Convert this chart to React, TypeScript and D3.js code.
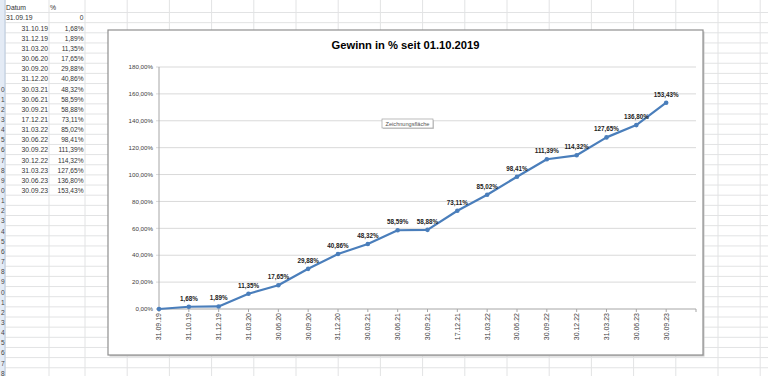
import React from 'react';
import * as d3 from 'd3';

const dates = ['31.09.19','31.10.19','31.12.19','31.03.20','30.06.20','30.09.20','31.12.20','30.03.21','30.06.21','30.09.21','17.12.21','31.03.22','30.06.22','30.09.22','30.12.22','31.03.23','30.06.23','30.09.23'];
const values = [0,1.68,1.89,11.35,17.65,29.88,40.86,48.32,58.59,58.88,73.11,85.02,98.41,111.39,114.32,127.65,136.80,153.43];
const tableValues = ['0','1,68%','1,89%','11,35%','17,65%','29,88%','40,86%','48,32%','58,59%','58,88%','73,11%','85,02%','98,41%','111,39%','114,32%','127,65%','136,80%','153,43%'];
const yTicks = [0,20,40,60,80,100,120,140,160,180];
const rowNumbers = [10,11,12,13,14,15,16,17,18,19,20,21,22,23,24,25,26,27,28,29,30,31,32,33,34,35,36,37,38];
const title = 'Gewinn in % seit 01.10.2019';
const headerDate = 'Datum';
const headerPct = '%';
const plotTip = 'Zeichnungsfläche';

const fmtPct = (v: number) => v.toFixed(2).replace('.', ',') + '%';

export default function App() {
  const W = 768, H = 376;
  const x = d3.scaleLinear().domain([0, dates.length]).range([159, 696]);
  const y = d3.scaleLinear().domain([0, 180]).range([309, 67]);
  const line = d3.line<number>().x((_, i) => x(i)).y(d => y(d));

  const rowH = 10.15;
  const rowLines = d3.range(0, 37).map(k => 12.5 + k * rowH);
  const colLines = [5, 49, ...d3.range(0, 17).map(k => 85 + k * 42.2)];
  const rowCenter = (r: number) => 8 + r * rowH; // r=0 header row (sheet row 2)
  const font = "'Liberation Sans', Arial, sans-serif";

  return (
    <svg width={W} height={H} style={{ position: 'absolute', left: 0, top: 0, background: '#fff' }} fontFamily={font}>
      {/* spreadsheet grid */}
      {rowLines.map((yy, i) => (
        <line key={'r' + i} x1={0} x2={W} y1={yy} y2={yy} stroke="#e2e3e4" strokeWidth={1} />
      ))}
      {colLines.map((xx, i) => (
        <line key={'c' + i} x1={xx} x2={xx} y1={0} y2={H} stroke="#e2e3e4" strokeWidth={1} />
      ))}
      {/* row header strip (only the last digit is visible) */}
      <rect x={0} y={0} width={5} height={H} fill="#e4ebf5" />
      <line x1={5} x2={5} y1={0} y2={H} stroke="#b8c8dc" />
      {rowNumbers.map(n => (
        <text key={n} x={4.6} y={rowCenter(n - 2) + 2.3} fontSize={6.5} textAnchor="end" fill="#444">{String(n % 10)}</text>
      ))}
      {/* table */}
      <text x={6} y={rowCenter(0) + 2.3} fontSize={6.8} fill="#333">{headerDate}</text>
      <text x={50} y={rowCenter(0) + 2.3} fontSize={6.8} fill="#333">{headerPct}</text>
      {dates.map((d, i) => (
        <text key={'d' + i} x={i === 0 ? 6 : 48} y={rowCenter(i + 1) + 2.3} fontSize={6.8} textAnchor={i === 0 ? 'start' : 'end'} fill="#333">{d}</text>
      ))}
      {tableValues.map((v, i) => (
        <text key={'v' + i} x={83.5} y={rowCenter(i + 1) + 2.3} fontSize={6.6} textAnchor="end" fill="#333">{v}</text>
      ))}

      {/* chart box */}
      <rect x={109.5} y={31.5} width={595} height={325} fill="#c8c8c8" />
      <rect x={108} y={30} width={595} height={325} fill="#fff" stroke="#8f8f8f" strokeWidth={1.2} />
      <text x={405.5} y={49} fontSize={11.2} fontWeight="bold" textAnchor="middle" fill="#000">{title}</text>

      {/* gridlines + y labels */}
      {yTicks.map(t => (
        <g key={'g' + t}>
          <line x1={156} x2={696} y1={y(t)} y2={y(t)} stroke={t === 0 ? '#a6a6a6' : '#d9d9d9'} strokeWidth={1} />
          <text x={153} y={y(t) + 2.2} fontSize={6.2} textAnchor="end" fill="#404040">{fmtPct(t)}</text>
        </g>
      ))}
      <line x1={159} x2={159} y1={67} y2={309} stroke="#a6a6a6" />
      {/* x ticks + labels */}
      {d3.range(0, dates.length + 1).map(i => (
        <line key={'t' + i} x1={x(i)} x2={x(i)} y1={309} y2={312} stroke="#a6a6a6" />
      ))}
      {dates.map((d, i) => (
        <text key={'xl' + i} transform={`translate(${x(i) + 2.4},${313}) rotate(-90)`} fontSize={7} textAnchor="end" fill="#404040">{d}</text>
      ))}

      {/* series */}
      <path d={line(values) || ''} fill="none" stroke="#4a7ebb" strokeWidth={2.2} strokeLinejoin="round" />
      {values.map((v, i) => (
        <circle key={'p' + i} cx={x(i)} cy={y(v)} r={2.3} fill="#4a7ebb" />
      ))}
      {values.map((v, i) => i === 0 ? null : (
        <text key={'dl' + i} x={x(i)} y={y(v) - 6} fontSize={6.3} fontWeight="bold" textAnchor="middle" fill="#222">{fmtPct(v)}</text>
      ))}

      {/* tooltip */}
      <rect x={383} y={120} width={51} height={9} fill="#d0d0d0" />
      <rect x={382} y={119} width={51} height={9} fill="#fff" stroke="#a0a0a0" strokeWidth={0.7} />
      <text x={407.5} y={125.6} fontSize={5.6} textAnchor="middle" fill="#555">{plotTip}</text>
    </svg>
  );
}
